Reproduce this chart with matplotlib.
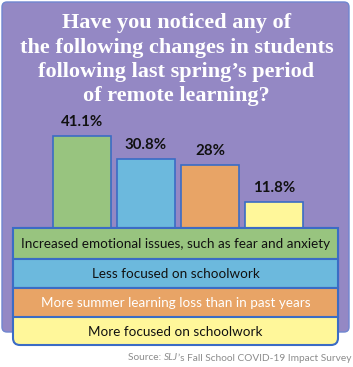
import matplotlib
matplotlib.use("Agg")
import matplotlib.pyplot as plt
from matplotlib.patches import FancyBboxPatch, Rectangle

title_lines = ["Have you noticed any of", "the following changes in students",
               "following last spring\u2019s period", "of remote learning?"]
categories = ["Increased emotional issues, such as fear and anxiety",
              "Less focused on schoolwork",
              "More summer learning loss than in past years",
              "More focused on schoolwork"]
values = [41.1, 30.8, 28.0, 11.8]
value_labels = ["41.1%", "30.8%", "28%", "11.8%"]
colors = ["#98c47f", "#6cb9dd", "#e8a466", "#fff79a"]
text_colors = ["#111111", "#111111", "#ffffff", "#111111"]
source_parts = ["Source: ", "SLJ", "\u2019s Fall School COVID-19 Impact Survey"]

W, H = 353, 367
fig = plt.figure(figsize=(W / 100, H / 100), dpi=100)
fig.patch.set_facecolor("white")

def fx(px): return px / W
def fy(py): return 1 - py / H

# background overlay
ax0 = fig.add_axes([0, 0, 1, 1], zorder=0)
ax0.set_xlim(0, W); ax0.set_ylim(H, 0); ax0.axis("off")
panel = FancyBboxPatch((2, 2), 347, 330, boxstyle="round,pad=0,rounding_size=5",
                       facecolor="#9488c4", edgecolor="#6f86d0", linewidth=1.0)
ax0.add_patch(panel)
ys = [23, 48, 72, 96]
for t, y in zip(title_lines, ys):
    ax0.text(W / 2, y, t, ha="center", va="center", color="white",
             fontsize=16, fontweight="bold", family="Liberation Serif")

# bar axes
spacing = 64.0
c0 = 82.0
left_px = c0 - 0.65 * spacing
width_px = 4.3 * spacing
base_px = 228.0
h_px = 100.0
ax = fig.add_axes([fx(left_px), fy(base_px), width_px / W, h_px / H], zorder=1)
ax.patch.set_alpha(0)
ax.set_xlim(-0.65, 3.65)
ax.set_ylim(0, 100 * 41.1 / 92)
ax.axis("off")
xs = list(range(len(values)))
ax.bar(xs, values, width=0.9, color=colors, edgecolor="#3b6cc5", linewidth=1.2, clip_on=False)
for x, v, lab in zip(xs, values, value_labels):
    ax.annotate(lab, (x, v), xytext=(0, 5), textcoords="offset points", ha="center",
                va="bottom", fontsize=10.8, fontweight="bold", family="Lato", color="#111111")

# legend overlay
ax2 = fig.add_axes([0, 0, 1, 1], zorder=2)
ax2.patch.set_alpha(0)
ax2.set_xlim(0, W); ax2.set_ylim(H, 0); ax2.axis("off")
lx0, lx1 = 13, 338
rows = [228, 259, 288, 317, 345]
outer = FancyBboxPatch((lx0, rows[0]), lx1 - lx0, rows[-1] - rows[0],
                       boxstyle="round,pad=0,rounding_size=7",
                       facecolor=colors[3], edgecolor="#3b6cc5", linewidth=1.5)
ax2.add_patch(outer)
ax2.add_patch(Rectangle((lx0, rows[0]), lx1 - lx0, 10, facecolor=colors[3],
                        edgecolor="none"))
for i in range(3):
    ax2.add_patch(Rectangle((lx0, rows[i]), lx1 - lx0, rows[i + 1] - rows[i],
                            facecolor=colors[i], edgecolor="#3b6cc5", linewidth=1.5))
for i, (c, tc) in enumerate(zip(categories, text_colors)):
    ax2.text((lx0 + lx1) / 2, (rows[i] + rows[i + 1]) / 2 + 0.5, c, ha="center",
             va="center", fontsize=9.7, family="Lato", color=tc)

# source
fig.canvas.draw()
r = fig.canvas.get_renderer()
x_right = 351
styles = ["normal", "italic", "normal"]
for part, st in zip(reversed(source_parts), reversed(styles)):
    t = ax2.text(x_right, 358, part, ha="right", va="center", fontsize=7.3,
                 family="Lato", style=st, color="#8c8c8c")
    bb = t.get_window_extent(renderer=r)
    x_right -= bb.width

fig.savefig("out.png", dpi=100, facecolor="white")
